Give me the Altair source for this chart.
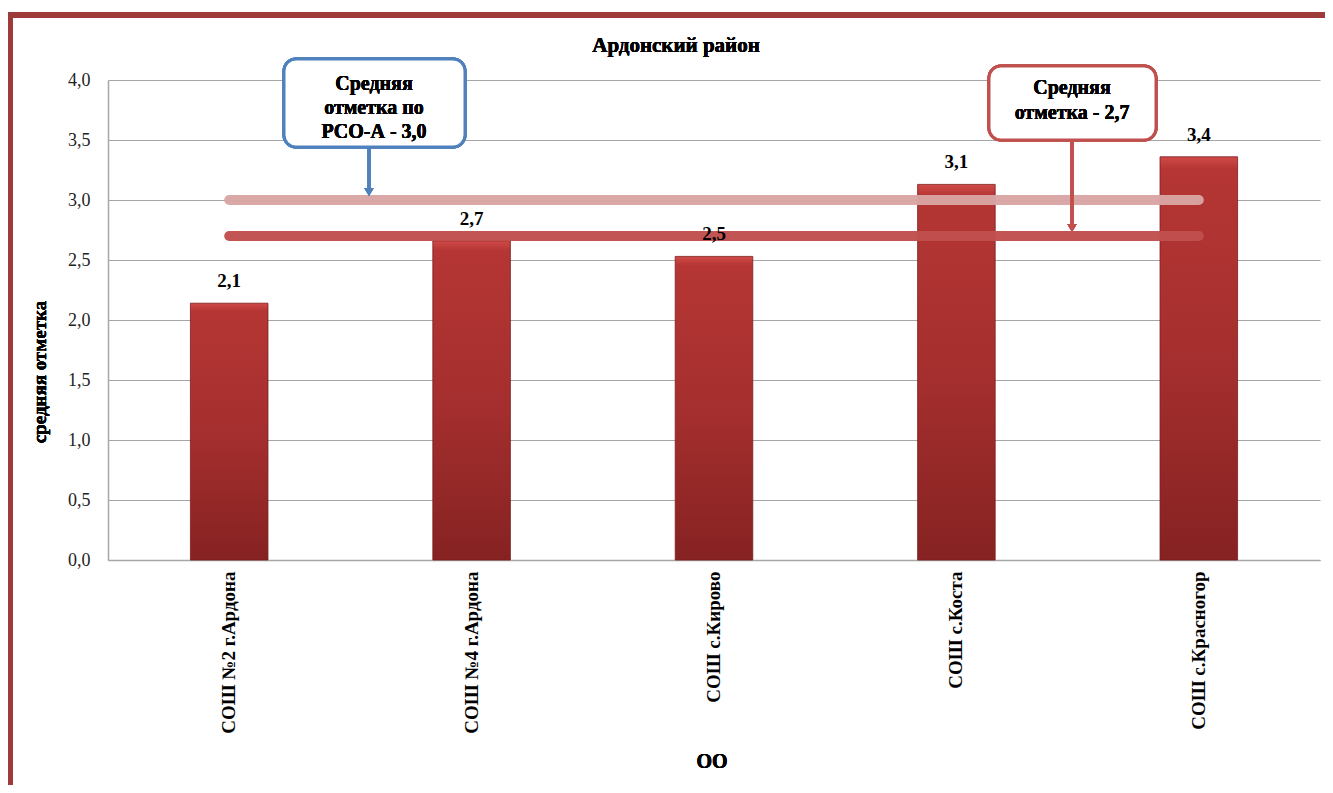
import altair as alt
import pandas as pd

# ---- data ----
schools = ["СОШ №2 г.Ардона", "СОШ №4 г.Ардона", "СОШ с.Кирово", "СОШ с.Коста", "СОШ с.Красногор"]
scores = [2.14, 2.66, 2.53, 3.13, 3.36]
ref_names = ["РСО-А", "Район"]
ref_values = [3.0, 2.7]
ref_colors = ["#d9a5a4", "#c0504d"]

FONT = "Liberation Serif"
W, H = 1212, 480

df = pd.DataFrame({"school": schools, "score": scores})
ref_df = pd.DataFrame({
    "name": ref_names,
    "value": ref_values,
    "start": [schools[0]] * 2,
    "end": [schools[-1]] * 2,
    "color": ref_colors,
})

x_scale = alt.Scale(domain=schools, paddingInner=0.68, paddingOuter=0.34)
y_scale = alt.Scale(domain=[0, 4], nice=False)

x_enc = alt.X("school:N", title=None, scale=x_scale,
              axis=alt.Axis(labelAngle=-90, labelFont=FONT, labelFontSize=19,
                            labelFontWeight="bold", labelColor="#000000",
                            labelPadding=11, ticks=False, domainColor="#a6a6a6",
                            domainWidth=1.5, labelLimit=300))
y_enc = alt.Y("score:Q", title=None, scale=y_scale,
              axis=alt.Axis(values=[0, 0.5, 1, 1.5, 2, 2.5, 3, 3.5, 4],
                            labelExpr="replace(format(datum.value, '.1f'), '.', ',')",
                            labelFont=FONT, labelFontSize=18, labelColor="#222222",
                            labelPadding=18, ticks=False, grid=True,
                            gridColor="#a6a6a6", gridWidth=1,
                            domainColor="#a6a6a6", domainWidth=1.5))

grad = alt.Gradient(gradient="linear", x1=0, x2=0, y1=0, y2=1,
                    stops=[alt.GradientStop(color="#d04a48", offset=0),
                           alt.GradientStop(color="#b53634", offset=0.03),
                           alt.GradientStop(color="#a52f2e", offset=0.5),
                           alt.GradientStop(color="#862222", offset=1)])

bars = alt.Chart(df).mark_bar(fill=grad, stroke="#7a1c1c", strokeWidth=0.8).encode(
    x=x_enc, y=y_enc)

labels = alt.Chart(df).transform_calculate(
    lab="replace(format(datum.score, '.1f'), '.', ',')"
).mark_text(font=FONT, fontSize=19, fontWeight="bold", dy=-22, color="#000000").encode(
    x=alt.X("school:N", scale=x_scale), y=alt.Y("score:Q", scale=y_scale), text="lab:N")

ref_lines = alt.Chart(ref_df).mark_rule(strokeCap="round", strokeWidth=10, opacity=0.97).encode(
    x=alt.X("start:N", scale=x_scale), x2="end:N",
    y=alt.Y("value:Q", scale=y_scale),
    color=alt.Color("color:N", scale=None))

# ---- annotations (pixel placement relative to plot area) ----
frame_top = alt.Chart(df).mark_rule(color="#9e3a3a", strokeWidth=6).encode(
    x=alt.value(-100), x2=alt.value(1240), y=alt.value(-65))
frame_left = alt.Chart(df).mark_rule(color="#9e3a3a", strokeWidth=6).encode(
    x=alt.value(-98), y=alt.value(-68), y2=alt.value(720))

title = alt.Chart(df).mark_text(font=FONT, fontSize=21, fontWeight="bold", color="#000000").encode(
    x=alt.value(568), y=alt.value(-34), text=alt.value("Ардонский район"))
ytitle = alt.Chart(df).mark_text(font=FONT, fontSize=19, fontWeight="bold", angle=270,
                                 color="#000000").encode(
    x=alt.value(-68), y=alt.value(292), text=alt.value("средняя отметка"))
xtitle = alt.Chart(df).mark_text(font=FONT, fontSize=20, fontWeight="bold", color="#000000").encode(
    x=alt.value(604), y=alt.value(682), text=alt.value("ОО"))

blue_box = alt.Chart(df).mark_rect(fill="white", stroke="#4f81bd", strokeWidth=3,
                                   cornerRadius=12).encode(
    x=alt.value(176), x2=alt.value(357), y=alt.value(-21), y2=alt.value(67))
blue_text = alt.Chart(df).mark_text(font=FONT, fontSize=20, fontWeight="bold", color="#000000",
                                    lineHeight=24).encode(
    x=alt.value(266), y=alt.value(4),
    text=alt.value(["Средняя", "отметка по", "РСО-А - 3,0"]))
blue_arrow = alt.Chart(df).mark_rule(color="#4f81bd", strokeWidth=3).encode(
    x=alt.value(261), y=alt.value(68), y2=alt.value(112))
blue_head = alt.Chart(df).mark_point(shape="triangle-down", filled=True, color="#4f81bd",
                                     size=90, opacity=1).encode(
    x=alt.value(261), y=alt.value(112))

red_box = alt.Chart(df).mark_rect(fill="white", stroke="#c0504d", strokeWidth=3,
                                  cornerRadius=12).encode(
    x=alt.value(881), x2=alt.value(1048), y=alt.value(-14), y2=alt.value(60))
red_text = alt.Chart(df).mark_text(font=FONT, fontSize=20, fontWeight="bold", color="#000000",
                                   lineHeight=25).encode(
    x=alt.value(964), y=alt.value(8),
    text=alt.value(["Средняя", "отметка - 2,7"]))
red_arrow = alt.Chart(df).mark_rule(color="#c0504d", strokeWidth=3).encode(
    x=alt.value(964), y=alt.value(61), y2=alt.value(148))
red_head = alt.Chart(df).mark_point(shape="triangle-down", filled=True, color="#c0504d",
                                    size=90, opacity=1).encode(
    x=alt.value(964), y=alt.value(148))

chart = alt.layer(
    frame_top, frame_left, bars, ref_lines, labels, title, ytitle, xtitle,
    blue_box, blue_text, blue_arrow, blue_head,
    red_box, red_text, red_arrow, red_head,
).properties(
    width=W, height=H,
    autosize=alt.AutoSizeParams(type="none"),
    padding={"left": 100, "top": 72, "right": 5, "bottom": 225},
    background="white",
).configure_view(stroke=None)

chart.save("out.html", embed_options={"renderer": "svg", "actions": False})
